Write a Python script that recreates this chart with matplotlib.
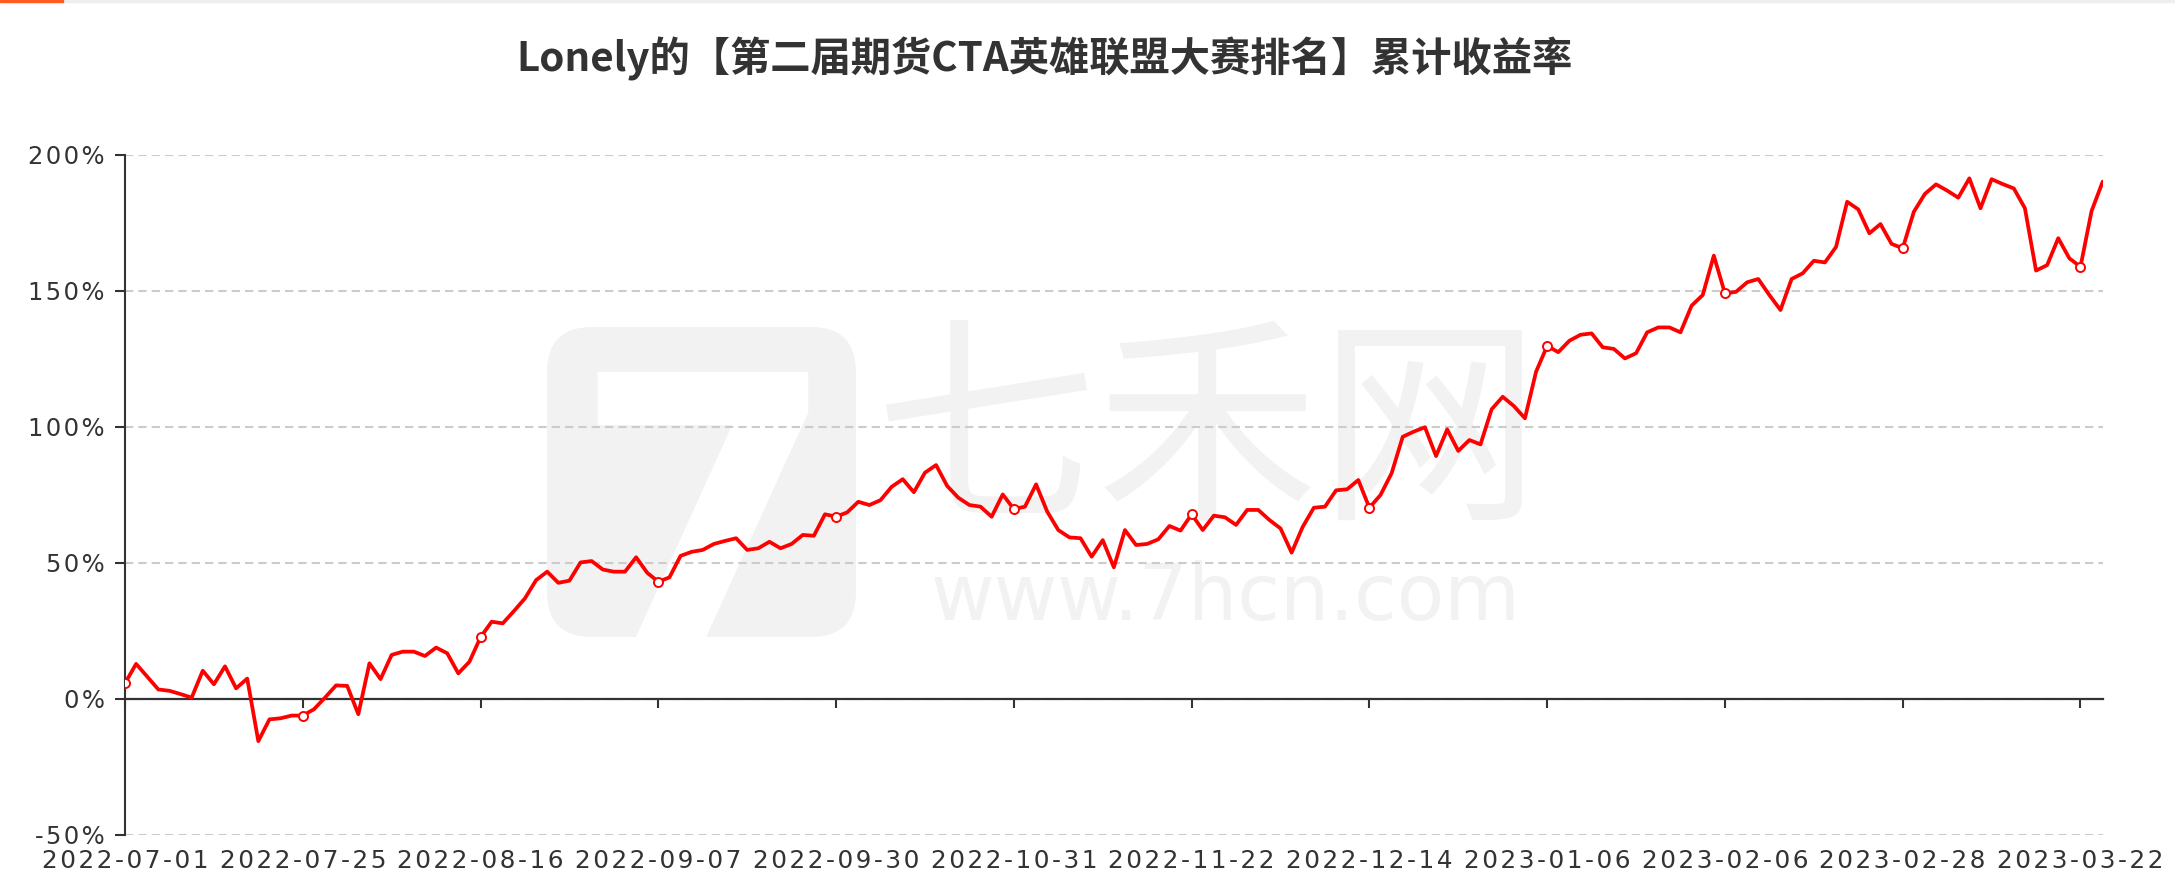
import matplotlib
matplotlib.use("Agg")
import matplotlib.pyplot as plt
from matplotlib.patches import FancyBboxPatch, Rectangle
from matplotlib.transforms import Affine2D, blended_transform_factory
import pandas as pd

# ---------------- data ----------------
title = "Lonely的【第二届期货CTA英雄联盟大赛排名】累计收益率"
start_date = "2022-07-01"
end_date = "2023-03-24"
holidays = ["2022-09-12", "2022-10-03", "2022-10-04", "2022-10-05", "2022-10-06",
            "2022-10-07", "2023-01-02", "2023-01-23", "2023-01-24", "2023-01-25",
            "2023-01-26", "2023-01-27"]
returns_pct = [
    5.7, 12.8, 8.1, 3.4, 2.9, 1.7, 0.4, 10.3, 5.3, 11.9,
    3.8, 7.4, -15.6, -7.6, -7.2, -6.2, -6.2, -3.9, 0.4, 4.9,
    4.7, -5.7, 13.0, 7.2, 16.1, 17.3, 17.3, 15.7, 18.8, 16.7,
    9.3, 13.6, 22.6, 28.3, 27.7, 32.2, 36.9, 43.6, 46.7, 42.6,
    43.4, 50.1, 50.6, 47.5, 46.7, 46.7, 52.0, 46.3, 43.0, 44.6,
    52.5, 54.0, 54.7, 56.9, 58.0, 59.0, 54.7, 55.3, 57.7, 55.3,
    56.9, 60.2, 59.9, 67.8, 66.9, 68.5, 72.4, 71.2, 73.0, 77.9,
    80.7, 75.9, 83.1, 85.9, 78.2, 73.9, 71.2, 70.6, 66.9, 75.1,
    69.7, 70.6, 78.8, 68.8, 62.0, 59.3, 59.0, 52.2, 58.3, 48.3,
    62.0, 56.5, 56.9, 58.6, 63.5, 61.8, 67.8, 62.0, 67.3, 66.7,
    63.9, 69.4, 69.4, 65.7, 62.6, 53.7, 63.2, 70.2, 70.6, 76.6,
    77.0, 80.4, 70.2, 74.9, 82.9, 96.3, 98.2, 99.8, 89.2, 99.0,
    91.1, 95.1, 93.5, 106.4, 111.0, 107.6, 103.1, 120.2, 129.7, 127.4,
    131.6, 133.8, 134.3, 129.2, 128.6, 125.1, 127.0, 134.7, 136.5, 136.5,
    134.7, 144.5, 148.4, 162.9, 149.0, 149.6, 153.1, 154.3, 148.4, 142.9,
    154.3, 156.4, 161.0, 160.4, 166.1, 182.7, 179.9, 171.1, 174.5, 167.2,
    165.6, 179.0, 185.6, 189.1, 186.8, 184.2, 191.3, 180.3, 191.0, 189.2,
    187.6, 180.3, 157.4, 159.4, 169.3, 161.9, 158.8, 179.3, 190.1,
]
y_ticks = [-50, 0, 50, 100, 150, 200]
label_step = 16

dates = pd.bdate_range(start_date, end_date, freq="C", holidays=holidays)
date_labels = [d.strftime("%Y-%m-%d") for d in dates][:len(returns_pct)]
x = list(range(len(returns_pct)))
tick_idx = list(range(0, len(returns_pct), label_step))

# ---------------- figure ----------------
W, H = 2175, 892
plt.rcParams["lines.scale_dashes"] = False
fig = plt.figure(figsize=(W / 100, H / 100), dpi=100)
fig.patch.set_facecolor("white")
px = Affine2D().scale(1 / W, -1 / H).translate(0, 1) + fig.transFigure

# page decoration bar at the very top
fig.add_artist(Rectangle((0, 0), W, 2, transform=px, color="#eeeeee", zorder=-10))
fig.add_artist(Rectangle((0, 0), 63, 2, transform=px, color="#ff5a1f", zorder=-9))

# watermark
wm = "#f2f2f2"
logo = FancyBboxPatch((547, 327), 309, 310, boxstyle="round,pad=0,rounding_size=45",
                      transform=px, facecolor=wm, edgecolor="none", zorder=-8)
fig.add_artist(logo)
t7 = fig.text(705, 652, "7", transform=px, fontsize=276, fontweight="bold",
              color="white", ha="center", va="baseline", zorder=-7,
              family="DejaVu Sans")
t7.set_clip_path(logo)
fig.text(1207, 440, "七禾网", transform=px, fontsize=160, color=wm,
         ha="center", va="center", zorder=-7,
         family=["Noto Sans CJK SC", "DejaVu Sans"])
fig.text(1226, 598, "www.7hcn.com", transform=px, fontsize=56, color=wm,
         ha="center", va="center", zorder=-7, family="DejaVu Sans")

left, right, top, bottom = 125, 2102.7, 154.7, 834.7
ax = fig.add_axes([left / W, 1 - bottom / H, (right - left) / W, (bottom - top) / H])
ax.set_facecolor("none")

ax.plot(x, returns_pct, color="#ff0000", lw=2.7, solid_joinstyle="round",
        solid_capstyle="round", zorder=3)
ax.plot([x[i] for i in tick_idx], [returns_pct[i] for i in tick_idx], "o",
        mfc="white", mec="#ff0000", ms=6.5, mew=1.4, zorder=4)

ax.set_xlim(0, len(returns_pct) - 1)
ax.set_ylim(-50, 200)

hs = "\u200a"
ax.set_yticks(y_ticks)
ax.set_yticklabels([hs.join(f"{v}%") for v in y_ticks])
ax.yaxis.grid(True, color="#cccccc", lw=1.5, ls=(0, (6, 3.6)))
ax.set_axisbelow(True)

for s in ("top", "right"):
    ax.spines[s].set_visible(False)
ax.spines["left"].set_color("#333333")
ax.spines["left"].set_linewidth(1.5)
ax.spines["bottom"].set_position(("data", 0))
ax.spines["bottom"].set_color("#333333")
ax.spines["bottom"].set_linewidth(1.6)
ax.spines["bottom"].set_zorder(2.5)

ax.set_xticks(tick_idx)
ax.tick_params(axis="x", length=6.5, width=1.5, color="#333333", direction="out",
               labelbottom=False)
ax.tick_params(axis="y", length=7.5, width=1.5, color="#333333", pad=7,
               labelsize=17.5, labelcolor="#333333")

trans = blended_transform_factory(ax.transData, ax.transAxes)
for i in tick_idx:
    ax.annotate(hs.join(date_labels[i]), xy=(i, 0), xycoords=trans,
                xytext=(0, -24), textcoords="offset points", ha="center",
                va="baseline", fontsize=17.8, color="#333333",
                annotation_clip=False)

fig.text(1044, 59, title, transform=px, ha="center", va="center", fontsize=29,
         fontweight="bold", color="#333333",
         family=["Noto Sans CJK SC", "DejaVu Sans"])

fig.savefig("out.png", dpi=100, facecolor="white")
